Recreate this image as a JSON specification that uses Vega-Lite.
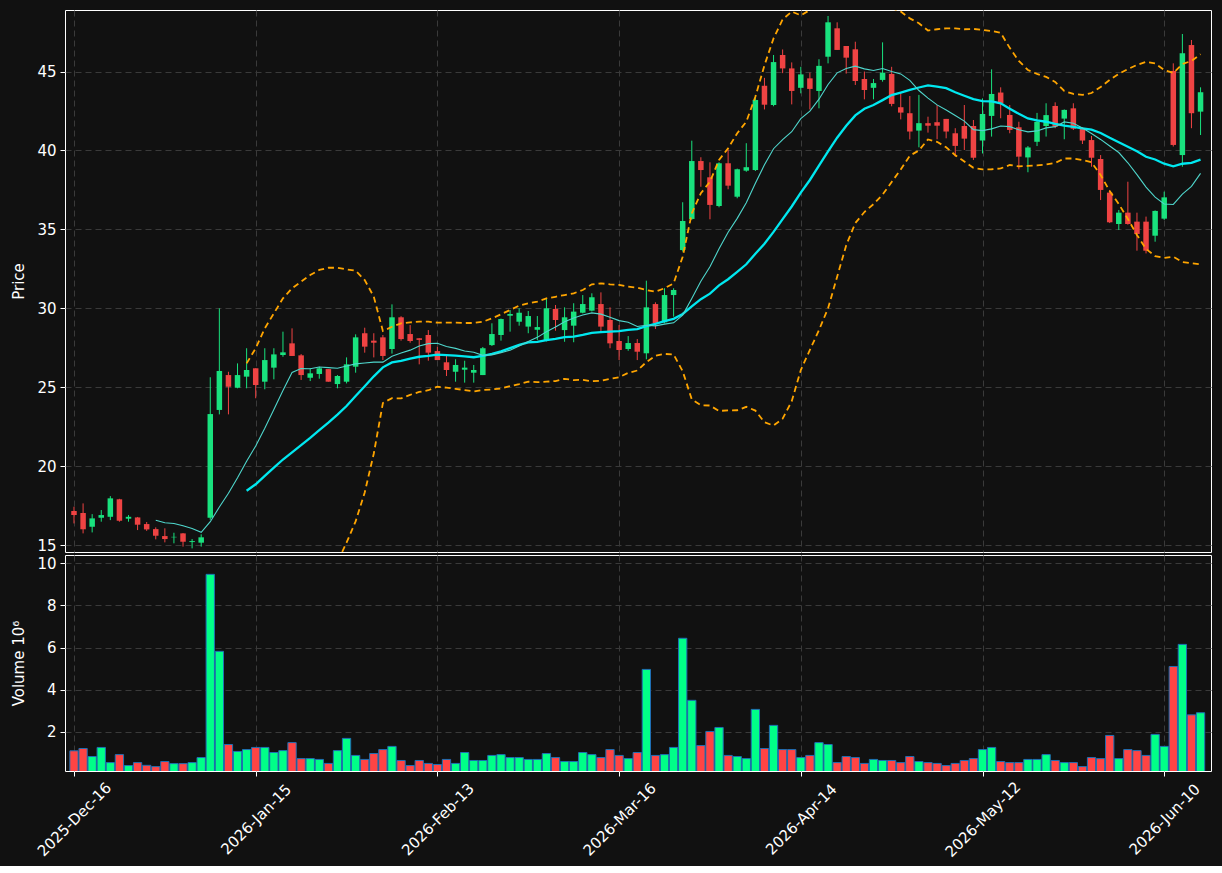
{
  "$schema": "https://vega.github.io/schema/vega-lite/v6.json",
  "background": "#111111",
  "padding": {"left": 11, "top": 9, "right": 10, "bottom": 5},
  "spacing": 0,
  "data": {"values": [
    {"i":0,"o":17.15,"h":17.43,"l":16.37,"c":16.9,"v":1.09},
    {"i":1,"o":17.03,"h":17.64,"l":15.74,"c":16.0,"v":1.2},
    {"i":2,"o":16.16,"h":16.96,"l":15.8,"c":16.69,"v":0.82},
    {"i":3,"o":16.73,"h":17.22,"l":16.48,"c":16.9,"v":1.25},
    {"i":4,"o":16.79,"h":18.1,"l":16.58,"c":17.96,"v":0.53},
    {"i":5,"o":17.9,"h":17.93,"l":16.48,"c":16.54,"v":0.91},
    {"i":6,"o":16.67,"h":16.9,"l":16.48,"c":16.79,"v":0.39},
    {"i":7,"o":16.75,"h":16.78,"l":15.95,"c":16.29,"v":0.53},
    {"i":8,"o":16.33,"h":16.46,"l":15.9,"c":15.99,"v":0.4},
    {"i":9,"o":16.01,"h":16.12,"l":15.36,"c":15.59,"v":0.34,"m10":16.57},
    {"i":10,"o":15.57,"h":16.06,"l":15.17,"c":15.38,"v":0.58,"m10":16.41},
    {"i":11,"o":15.49,"h":15.78,"l":15.11,"c":15.52,"v":0.48,"m10":16.37},
    {"i":12,"o":15.74,"h":15.76,"l":14.9,"c":15.21,"v":0.48,"m10":16.22},
    {"i":13,"o":15.19,"h":15.38,"l":14.79,"c":15.25,"v":0.53,"m10":16.05},
    {"i":14,"o":15.15,"h":15.68,"l":14.9,"c":15.49,"v":0.77,"m10":15.81},
    {"i":15,"o":16.73,"h":25.63,"l":16.6,"c":23.3,"v":9.48,"m10":16.48},
    {"i":16,"o":23.56,"h":30.0,"l":23.28,"c":26.03,"v":5.82,"m10":17.41},
    {"i":17,"o":25.77,"h":25.98,"l":23.28,"c":25.03,"v":1.39,"m10":18.28},
    {"i":18,"o":24.97,"h":26.51,"l":24.93,"c":25.77,"v":1.06,"m10":19.26},
    {"i":19,"o":25.67,"h":27.47,"l":24.93,"c":26.09,"v":1.15,"m10":20.31,"m20":18.44,"bu":26.51,"bl":10.36},
    {"i":20,"o":26.2,"h":26.2,"l":24.3,"c":25.14,"v":1.25,"m10":21.28,"m20":18.85,"bu":27.47,"bl":10.23},
    {"i":21,"o":25.35,"h":27.47,"l":24.87,"c":26.72,"v":1.25,"m10":22.4,"m20":19.38,"bu":28.73,"bl":10.04},
    {"i":22,"o":26.24,"h":27.47,"l":25.5,"c":27.08,"v":1.01,"m10":23.59,"m20":19.9,"bu":29.68,"bl":10.13},
    {"i":23,"o":27.04,"h":28.52,"l":26.93,"c":27.21,"v":1.1,"m10":24.79,"m20":20.42,"bu":30.63,"bl":10.21},
    {"i":24,"o":27.78,"h":28.73,"l":26.98,"c":26.98,"v":1.48,"m10":25.94,"m20":20.87,"bu":31.27,"bl":10.47},
    {"i":25,"o":27.02,"h":27.1,"l":25.46,"c":25.77,"v":0.72,"m10":26.18,"m20":21.33,"bu":31.69,"bl":10.97},
    {"i":26,"o":25.6,"h":26.2,"l":25.39,"c":25.88,"v":0.72,"m10":26.17,"m20":21.79,"bu":32.11,"bl":11.46},
    {"i":27,"o":25.84,"h":26.3,"l":25.54,"c":26.2,"v":0.68,"m10":26.28,"m20":22.28,"bu":32.43,"bl":12.13},
    {"i":28,"o":26.15,"h":26.15,"l":25.35,"c":25.35,"v":0.49,"m10":26.24,"m20":22.75,"bu":32.57,"bl":12.93},
    {"i":29,"o":25.2,"h":25.77,"l":24.93,"c":25.71,"v":1.1,"m10":26.2,"m20":23.26,"bu":32.57,"bl":13.94},
    {"i":30,"o":25.35,"h":26.89,"l":25.24,"c":26.45,"v":1.68,"m10":26.34,"m20":23.81,"bu":32.47,"bl":15.15},
    {"i":31,"o":26.3,"h":28.35,"l":25.92,"c":28.16,"v":0.87,"m10":26.48,"m20":24.44,"bu":32.38,"bl":16.5},
    {"i":32,"o":28.42,"h":28.77,"l":27.19,"c":27.57,"v":0.68,"m10":26.53,"m20":25.06,"bu":31.79,"bl":18.33},
    {"i":33,"o":27.95,"h":28.42,"l":26.89,"c":27.82,"v":0.96,"m10":26.59,"m20":25.69,"bu":30.73,"bl":20.8},
    {"i":34,"o":28.16,"h":28.31,"l":26.72,"c":26.98,"v":1.15,"m10":26.59,"m20":26.26,"bu":28.56,"bl":24.0},
    {"i":35,"o":27.42,"h":30.25,"l":27.13,"c":29.43,"v":1.3,"m10":26.96,"m20":26.57,"bu":28.83,"bl":24.31},
    {"i":36,"o":29.43,"h":29.5,"l":27.95,"c":28.05,"v":0.63,"m10":27.17,"m20":26.67,"bu":29.05,"bl":24.29},
    {"i":37,"o":28.37,"h":28.94,"l":27.82,"c":27.93,"v":0.39,"m10":27.35,"m20":26.81,"bu":29.11,"bl":24.52},
    {"i":38,"o":28.1,"h":28.1,"l":26.45,"c":28.0,"v":0.63,"m10":27.61,"m20":26.93,"bu":29.15,"bl":24.7},
    {"i":39,"o":28.31,"h":28.62,"l":26.68,"c":27.19,"v":0.49,"m10":27.76,"m20":26.98,"bu":29.15,"bl":24.81},
    {"i":40,"o":27.29,"h":27.57,"l":26.72,"c":26.72,"v":0.44,"m10":27.79,"m20":27.06,"bu":29.09,"bl":25.03},
    {"i":41,"o":26.58,"h":26.98,"l":25.71,"c":26.09,"v":0.68,"m10":27.58,"m20":27.03,"bu":29.09,"bl":24.97},
    {"i":42,"o":25.98,"h":26.77,"l":25.35,"c":26.41,"v":0.49,"m10":27.46,"m20":27.0,"bu":29.09,"bl":24.9},
    {"i":43,"o":26.11,"h":26.68,"l":25.29,"c":26.24,"v":1.01,"m10":27.3,"m20":26.95,"bu":29.07,"bl":24.82},
    {"i":44,"o":25.92,"h":26.41,"l":25.29,"c":26.09,"v":0.63,"m10":27.22,"m20":26.9,"bu":29.07,"bl":24.73},
    {"i":45,"o":25.77,"h":27.55,"l":25.77,"c":27.47,"v":0.63,"m10":27.02,"m20":26.99,"bu":29.15,"bl":24.82},
    {"i":46,"o":27.67,"h":29.05,"l":27.61,"c":28.37,"v":0.87,"m10":27.05,"m20":27.11,"bu":29.36,"bl":24.86},
    {"i":47,"o":28.31,"h":29.35,"l":27.95,"c":29.32,"v":0.91,"m10":27.19,"m20":27.27,"bu":29.62,"bl":24.92},
    {"i":48,"o":29.53,"h":29.89,"l":28.52,"c":29.64,"v":0.77,"m10":27.35,"m20":27.48,"bu":29.89,"bl":25.07},
    {"i":49,"o":29.15,"h":30.0,"l":28.9,"c":29.72,"v":0.77,"m10":27.61,"m20":27.68,"bu":30.17,"bl":25.2},
    {"i":50,"o":28.84,"h":29.83,"l":28.42,"c":29.51,"v":0.68,"m10":27.89,"m20":27.84,"bu":30.32,"bl":25.35},
    {"i":51,"o":28.64,"h":29.51,"l":27.99,"c":28.81,"v":0.68,"m10":28.16,"m20":27.87,"bu":30.42,"bl":25.32},
    {"i":52,"o":27.99,"h":30.63,"l":27.9,"c":30.0,"v":0.96,"m10":28.52,"m20":27.99,"bu":30.63,"bl":25.35},
    {"i":53,"o":29.96,"h":30.21,"l":28.58,"c":29.26,"v":0.77,"m10":28.82,"m20":28.06,"bu":30.73,"bl":25.39},
    {"i":54,"o":28.62,"h":30.06,"l":27.88,"c":29.43,"v":0.58,"m10":29.15,"m20":28.18,"bu":30.84,"bl":25.53},
    {"i":55,"o":28.9,"h":30.32,"l":27.85,"c":29.79,"v":0.58,"m10":29.39,"m20":28.2,"bu":30.95,"bl":25.45},
    {"i":56,"o":29.72,"h":30.84,"l":29.68,"c":30.27,"v":1.01,"m10":29.58,"m20":28.31,"bu":31.16,"bl":25.47},
    {"i":57,"o":29.85,"h":30.95,"l":29.8,"c":30.7,"v":0.91,"m10":29.71,"m20":28.45,"bu":31.52,"bl":25.38},
    {"i":58,"o":30.27,"h":31.01,"l":28.52,"c":28.84,"v":0.77,"m10":29.63,"m20":28.49,"bu":31.58,"bl":25.41},
    {"i":59,"o":29.26,"h":30.06,"l":27.47,"c":27.78,"v":1.15,"m10":29.44,"m20":28.52,"bu":31.52,"bl":25.53},
    {"i":60,"o":27.93,"h":28.94,"l":26.72,"c":27.36,"v":0.87,"m10":29.22,"m20":28.56,"bu":31.48,"bl":25.63},
    {"i":61,"o":27.42,"h":28.24,"l":27.31,"c":27.8,"v":0.72,"m10":29.12,"m20":28.64,"bu":31.37,"bl":25.91},
    {"i":62,"o":27.8,"h":28.05,"l":26.72,"c":27.25,"v":1.01,"m10":28.85,"m20":28.68,"bu":31.31,"bl":26.06},
    {"i":63,"o":27.15,"h":31.75,"l":26.77,"c":30.06,"v":4.96,"m10":28.93,"m20":28.87,"bu":31.16,"bl":26.59},
    {"i":64,"o":30.27,"h":30.38,"l":28.69,"c":29.05,"v":0.87,"m10":28.89,"m20":29.02,"bu":31.05,"bl":26.99},
    {"i":65,"o":29.11,"h":31.27,"l":29.05,"c":30.84,"v":0.91,"m10":29.0,"m20":29.19,"bu":31.27,"bl":27.11},
    {"i":66,"o":30.84,"h":31.27,"l":29.47,"c":31.16,"v":1.25,"m10":29.08,"m20":29.33,"bu":31.58,"bl":27.08},
    {"i":67,"o":33.69,"h":36.72,"l":33.6,"c":35.53,"v":6.44,"m10":29.57,"m20":29.64,"bu":33.27,"bl":26.01},
    {"i":68,"o":35.66,"h":40.62,"l":35.6,"c":39.33,"v":3.49,"m10":30.62,"m20":30.12,"bu":36.02,"bl":24.23},
    {"i":69,"o":39.33,"h":39.57,"l":37.7,"c":38.76,"v":1.34,"m10":31.71,"m20":30.58,"bu":37.29,"bl":23.86},
    {"i":70,"o":38.3,"h":39.25,"l":35.64,"c":36.55,"v":2.01,"m10":32.63,"m20":30.93,"bu":38.02,"bl":23.84},
    {"i":71,"o":36.48,"h":39.25,"l":36.4,"c":39.19,"v":2.2,"m10":33.77,"m20":31.45,"bu":39.4,"bl":23.5},
    {"i":72,"o":39.19,"h":40.07,"l":37.54,"c":37.77,"v":0.87,"m10":34.82,"m20":31.84,"bu":40.14,"bl":23.53},
    {"i":73,"o":37.07,"h":38.85,"l":36.97,"c":38.81,"v":0.82,"m10":35.7,"m20":32.31,"bu":41.09,"bl":23.54},
    {"i":74,"o":38.72,"h":40.46,"l":38.65,"c":38.94,"v":0.72,"m10":36.69,"m20":32.79,"bu":41.82,"bl":23.76},
    {"i":75,"o":38.76,"h":43.5,"l":38.7,"c":43.2,"v":3.06,"m10":37.92,"m20":33.46,"bu":43.4,"bl":23.52},
    {"i":76,"o":44.1,"h":44.6,"l":42.6,"c":42.9,"v":1.2,"m10":39.1,"m20":34.09,"bu":45.4,"bl":22.78},
    {"i":77,"o":42.88,"h":46.05,"l":42.8,"c":45.6,"v":2.3,"m10":40.11,"m20":34.84,"bu":47.1,"bl":22.57},
    {"i":78,"o":46.05,"h":46.4,"l":44.9,"c":45.2,"v":1.15,"m10":40.69,"m20":35.65,"bu":48.3,"bl":23.01},
    {"i":79,"o":45.2,"h":45.58,"l":42.92,"c":43.77,"v":1.15,"m10":41.19,"m20":36.45,"bu":48.8,"bl":24.11},
    {"i":80,"o":43.97,"h":45.3,"l":43.62,"c":44.82,"v":0.77,"m10":42.02,"m20":37.33,"bu":48.56,"bl":26.09},
    {"i":81,"o":44.57,"h":44.93,"l":42.6,"c":43.9,"v":0.87,"m10":42.49,"m20":38.13,"bu":48.9,"bl":27.36},
    {"i":82,"o":43.77,"h":45.78,"l":42.67,"c":45.36,"v":1.48,"m10":43.25,"m20":39.04,"bu":49.45,"bl":28.62},
    {"i":83,"o":45.94,"h":48.52,"l":45.52,"c":48.12,"v":1.39,"m10":44.18,"m20":39.94,"bu":49.88,"bl":30.0},
    {"i":84,"o":47.74,"h":48.12,"l":46.37,"c":46.37,"v":0.53,"m10":44.92,"m20":40.81,"bu":49.61,"bl":32.0},
    {"i":85,"o":46.62,"h":46.62,"l":44.87,"c":45.88,"v":0.82,"m10":45.19,"m20":41.56,"bu":49.12,"bl":34.0},
    {"i":86,"o":46.41,"h":46.89,"l":44.15,"c":44.4,"v":0.77,"m10":45.34,"m20":42.22,"bu":49.04,"bl":35.4},
    {"i":87,"o":44.53,"h":45.0,"l":43.24,"c":43.83,"v":0.49,"m10":45.17,"m20":42.64,"bu":49.17,"bl":36.1},
    {"i":88,"o":43.97,"h":44.53,"l":43.24,"c":44.27,"v":0.68,"m10":45.07,"m20":42.88,"bu":49.16,"bl":36.6},
    {"i":89,"o":44.47,"h":46.85,"l":44.36,"c":44.93,"v":0.63,"m10":45.19,"m20":43.19,"bu":49.18,"bl":37.2},
    {"i":90,"o":44.85,"h":45.3,"l":42.8,"c":42.95,"v":0.63,"m10":45.0,"m20":43.51,"bu":49.02,"bl":38.0},
    {"i":91,"o":42.74,"h":43.62,"l":41.97,"c":42.4,"v":0.53,"m10":44.85,"m20":43.67,"bu":48.8,"bl":38.8},
    {"i":92,"o":42.36,"h":43.45,"l":40.7,"c":41.2,"v":0.82,"m10":44.44,"m20":43.84,"bu":48.37,"bl":39.67},
    {"i":93,"o":41.26,"h":43.52,"l":40.2,"c":41.73,"v":0.58,"m10":43.8,"m20":43.99,"bu":48.06,"bl":40.0},
    {"i":94,"o":41.73,"h":42.14,"l":41.13,"c":41.57,"v":0.53,"m10":43.32,"m20":44.12,"bu":47.6,"bl":40.7},
    {"i":95,"o":41.79,"h":42.88,"l":40.71,"c":41.57,"v":0.49,"m10":42.89,"m20":44.04,"bu":47.68,"bl":40.55},
    {"i":96,"o":42.0,"h":42.0,"l":40.77,"c":41.2,"v":0.39,"m10":42.57,"m20":43.95,"bu":47.74,"bl":40.2},
    {"i":97,"o":41.09,"h":41.41,"l":39.61,"c":40.29,"v":0.49,"m10":42.21,"m20":43.69,"bu":47.74,"bl":39.7},
    {"i":98,"o":41.55,"h":42.88,"l":40.03,"c":40.75,"v":0.63,"m10":41.86,"m20":43.47,"bu":47.68,"bl":39.3},
    {"i":99,"o":41.55,"h":41.93,"l":39.4,"c":39.54,"v":0.72,"m10":41.32,"m20":43.25,"bu":47.7,"bl":38.9},
    {"i":100,"o":40.63,"h":43.3,"l":39.81,"c":42.31,"v":1.15,"m10":41.26,"m20":43.13,"bu":47.64,"bl":38.8},
    {"i":101,"o":42.19,"h":45.14,"l":40.88,"c":43.58,"v":1.25,"m10":41.37,"m20":43.11,"bu":47.57,"bl":38.81},
    {"i":102,"o":43.67,"h":44.0,"l":42.04,"c":42.99,"v":0.58,"m10":41.55,"m20":42.99,"bu":47.45,"bl":38.86},
    {"i":103,"o":42.25,"h":42.88,"l":41.09,"c":41.3,"v":0.53,"m10":41.51,"m20":42.65,"bu":46.5,"bl":39.08},
    {"i":104,"o":41.47,"h":41.82,"l":38.8,"c":39.61,"v":0.53,"m10":41.31,"m20":42.32,"bu":45.67,"bl":38.99},
    {"i":105,"o":39.56,"h":40.28,"l":38.62,"c":40.19,"v":0.68,"m10":41.18,"m20":42.03,"bu":45.1,"bl":39.02},
    {"i":106,"o":40.55,"h":42.38,"l":40.28,"c":41.82,"v":0.68,"m10":41.24,"m20":41.9,"bu":44.85,"bl":39.05},
    {"i":107,"o":41.55,"h":42.99,"l":40.88,"c":42.24,"v":0.91,"m10":41.43,"m20":41.82,"bu":44.66,"bl":39.11},
    {"i":108,"o":42.82,"h":43.05,"l":41.41,"c":41.51,"v":0.63,"m10":41.51,"m20":41.68,"bu":44.34,"bl":39.21},
    {"i":109,"o":42.02,"h":42.6,"l":40.71,"c":42.57,"v":0.53,"m10":41.81,"m20":41.57,"bu":43.77,"bl":39.49},
    {"i":110,"o":42.67,"h":42.99,"l":41.3,"c":41.38,"v":0.53,"m10":41.72,"m20":41.49,"bu":43.58,"bl":39.49},
    {"i":111,"o":41.41,"h":41.45,"l":40.41,"c":40.63,"v":0.34,"m10":41.42,"m20":41.4,"bu":43.52,"bl":39.4},
    {"i":112,"o":40.66,"h":40.92,"l":38.97,"c":39.54,"v":0.77,"m10":41.08,"m20":41.32,"bu":43.64,"bl":39.25},
    {"i":113,"o":39.46,"h":39.71,"l":36.86,"c":37.5,"v":0.72,"m10":40.7,"m20":41.11,"bu":44.02,"bl":38.45},
    {"i":114,"o":37.33,"h":37.5,"l":35.4,"c":35.45,"v":1.82,"m10":40.28,"m20":40.8,"bu":44.47,"bl":37.43},
    {"i":115,"o":35.34,"h":36.23,"l":34.96,"c":36.06,"v":0.72,"m10":39.87,"m20":40.52,"bu":44.85,"bl":36.61},
    {"i":116,"o":36.06,"h":38.02,"l":35.3,"c":35.34,"v":1.15,"m10":39.22,"m20":40.23,"bu":45.16,"bl":35.66},
    {"i":117,"o":35.49,"h":36.06,"l":33.65,"c":34.71,"v":1.1,"m10":38.47,"m20":39.95,"bu":45.42,"bl":34.65},
    {"i":118,"o":35.49,"h":35.81,"l":33.48,"c":33.65,"v":0.87,"m10":37.68,"m20":39.6,"bu":45.61,"bl":33.76},
    {"i":119,"o":34.6,"h":36.2,"l":34.22,"c":36.17,"v":1.87,"m10":37.04,"m20":39.43,"bu":45.51,"bl":33.31},
    {"i":120,"o":35.68,"h":37.39,"l":35.6,"c":37.03,"v":1.3,"m10":36.61,"m20":39.16,"bu":45.1,"bl":33.19},
    {"i":121,"o":45.04,"h":45.52,"l":40.25,"c":40.35,"v":5.1,"m10":36.58,"m20":39.0,"bu":44.91,"bl":33.27},
    {"i":122,"o":39.71,"h":47.38,"l":38.97,"c":46.16,"v":6.15,"m10":37.24,"m20":39.16,"bu":45.48,"bl":32.93},
    {"i":123,"o":46.68,"h":47.0,"l":41.41,"c":42.36,"v":2.8,"m10":37.73,"m20":39.21,"bu":45.67,"bl":32.85},
    {"i":124,"o":42.46,"h":44.0,"l":40.98,"c":43.69,"v":2.9,"m10":38.55,"m20":39.42,"bu":46.1,"bl":32.79}
  ]},
  "vconcat": [
    {
      "width": 1146,
      "height": 542,
      "encoding": {
        "x": {"field": "i", "type": "quantitative",
              "scale": {"domain": [-0.44, 124.6], "nice": false, "zero": false},
              "axis": {"values": [0, 20, 40, 60, 80, 100, 120], "labels": false, "ticks": false, "tickSize": 0, "labelPadding": 0, "domain": false, "grid": true, "title": null}}
      },
      "layer": [
        {
          "mark": {"type": "rule", "strokeWidth": 1, "clip": true},
          "encoding": {
            "y": {"field": "l", "type": "quantitative",
                  "scale": {"domain": [14.56, 48.9], "nice": false, "zero": false},
                  "axis": {"values": [15, 20, 25, 30, 35, 40, 45], "title": "Price", "grid": true}},
            "y2": {"field": "h"},
            "color": {"condition": {"test": "datum.c >= datum.o", "value": "#19e27e"}, "value": "#ef4343"}
          }
        },
        {
          "mark": {"type": "bar", "size": 5.5, "clip": true},
          "encoding": {
            "y": {"field": "o", "type": "quantitative"},
            "y2": {"field": "c"},
            "color": {"condition": {"test": "datum.c >= datum.o", "value": "#19e27e"}, "value": "#ef4343"}
          }
        },
        {
          "mark": {"type": "line", "color": "#00e8f0", "strokeWidth": 2.3, "clip": true},
          "encoding": {"y": {"field": "m20", "type": "quantitative"}}
        },
        {
          "mark": {"type": "line", "color": "#4fd6cc", "strokeWidth": 1.1, "clip": true},
          "encoding": {"y": {"field": "m10", "type": "quantitative"}}
        },
        {
          "mark": {"type": "line", "color": "#ffa500", "strokeWidth": 1.8, "strokeDash": [6, 4], "clip": true},
          "encoding": {"y": {"field": "bu", "type": "quantitative"}}
        },
        {
          "mark": {"type": "line", "color": "#ffa500", "strokeWidth": 1.8, "strokeDash": [6, 4], "clip": true},
          "encoding": {"y": {"field": "bl", "type": "quantitative"}}
        }
      ]
    },
    {
      "width": 1146,
      "height": 216,
      "mark": {"type": "bar", "size": 8.3, "stroke": "#1f6fb4", "strokeWidth": 1, "clip": true},
      "encoding": {
        "x": {"field": "i", "type": "quantitative",
              "scale": {"domain": [-0.44, 124.6], "nice": false, "zero": false},
              "axis": {"values": [0, 20, 40, 60, 80, 100, 120], "grid": true, "title": null, "labelAngle": -45, "labelAlign": "center", "labelBaseline": "middle", "labelPadding": 43,
                       "labelExpr": "datum.value == 0 ? '2025-Dec-16' : datum.value == 20 ? '2026-Jan-15' : datum.value == 40 ? '2026-Feb-13' : datum.value == 60 ? '2026-Mar-16' : datum.value == 80 ? '2026-Apr-14' : datum.value == 100 ? '2026-May-12' : '2026-Jun-10'"}},
        "y": {"field": "v", "type": "quantitative",
              "scale": {"domain": [0.13, 10.4], "nice": false, "zero": false},
              "axis": {"values": [2, 4, 6, 8, 10], "title": "Volume  10⁶", "grid": true}},
        "y2": {"datum": 0},
        "color": {"condition": {"test": "datum.c >= datum.o", "value": "#00ff88"}, "value": "#ff4444"}
      }
    }
  ],
  "config": {
    "font": "DejaVu Sans",
    "view": {"stroke": "#ffffff", "strokeWidth": 1},
    "axis": {
      "labelColor": "#ffffff", "titleColor": "#ffffff", "tickColor": "#ffffff",
      "domain": false, "gridColor": "#3a3a3a", "gridDash": [6, 4], "gridWidth": 1,
      "labelFont": "DejaVu Sans", "titleFont": "DejaVu Sans",
      "labelFontSize": 15, "titleFontSize": 15, "titleFontWeight": "normal",
      "tickSize": 5, "labelPadding": 4, "titlePadding": 10
    }
  }
}
